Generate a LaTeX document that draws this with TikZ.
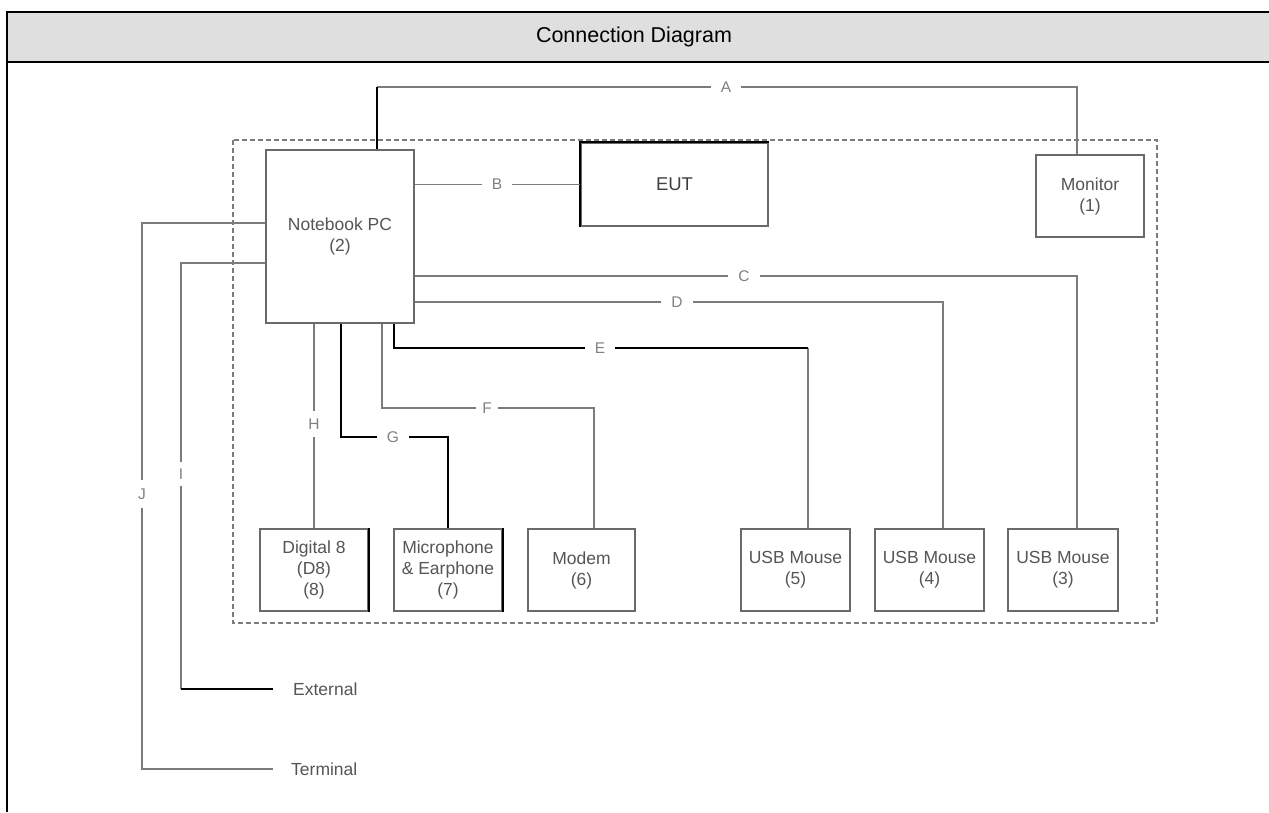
\documentclass[tikz,border=0pt]{standalone}
\usepackage{fontspec}
\setmainfont{Liberation Sans}
\usetikzlibrary{calc}
\definecolor{hdr}{HTML}{DFDFDF}
\definecolor{lgray}{HTML}{7C7C7C}
\definecolor{bgray}{HTML}{6A6A6A}
\definecolor{tgray}{HTML}{555555}
\definecolor{lbgray}{HTML}{808080}
\tikzset{
  devbox/.style={draw=bgray, line width=1.6pt, fill=white, inner sep=0pt, align=center,
    text=tgray, font=\fontsize{17.5}{21}\selectfont},
  wg/.style={draw=lgray, line width=1.6pt},
  wk/.style={draw=black, line width=2pt},
  hlbl/.style={fill=white, inner xsep=10pt, inner ysep=2pt, text=lbgray, font=\fontsize{15.5}{17}\selectfont},
  vlbl/.style={fill=white, inner xsep=2pt, inner ysep=8pt, text=lbgray, font=\fontsize{15.5}{17}\selectfont},
  extlbl/.style={anchor=west, inner sep=0pt, text=tgray, font=\fontsize{17.5}{20}\selectfont},
  encl/.style={draw=lgray, line width=1.6pt, dash pattern=on 5pt off 3pt},
}
\begin{document}
\begin{tikzpicture}[x=1pt, y=-1pt]
\useasboundingbox (0,0) rectangle (1269,812);
\fill[white] (0,0) rectangle (1269,812);
% header
\fill[hdr] (7,12) rectangle (1269,62);
\draw[line width=2pt] (1269,12) -- (7,12) -- (7,812);
\draw[line width=2pt] (7,62) -- (1269,62);
\node[font=\fontsize{21.5}{24}\selectfont] (title) at (634,37) {Connection Diagram};
% enclosure
\draw[encl] (233,140) rectangle (1157,623);
% devices
\node[devbox, minimum width=148pt, minimum height=173pt] (nb) at (340,236.5) {Notebook PC\\(2)};
\node[devbox, minimum width=187pt, minimum height=83pt, text=black!75, font=\fontsize{18.5}{21}\selectfont] (eut) at (674.5,184.5) {EUT};
\node[devbox, minimum width=108pt, minimum height=82pt] (mon) at (1090,196) {Monitor\\(1)};
\node[devbox, minimum width=108pt, minimum height=82pt] (d8) at (314,570) {Digital 8\\(D8)\\(8)};
\node[devbox, minimum width=108pt, minimum height=82pt] (mic) at (448,570) {Microphone\\\& Earphone\\(7)};
\node[devbox, minimum width=107pt, minimum height=82pt] (mod) at (581.5,570) {Modem\\(6)};
\node[devbox, minimum width=109pt, minimum height=82pt] (u5) at (795.5,570) {USB Mouse\\(5)};
\node[devbox, minimum width=109pt, minimum height=82pt] (u4) at (929.5,570) {USB Mouse\\(4)};
\node[devbox, minimum width=110pt, minimum height=82pt] (u3) at (1063,570) {USB Mouse\\(3)};
% darker edges
\draw[wk] (eut.south west) -- (eut.north west) -- (eut.north east);
\draw[wk, line width=1.8pt] (d8.north east) -- (d8.south east);
\draw[wk, line width=1.8pt] (mic.north east) -- (mic.south east);
% bend coordinates
\coordinate (aL) at (377,87);
\coordinate (aR) at (1077,87);
\coordinate (cR) at (1077,276);
\coordinate (dR) at (943,302);
\coordinate (eL) at (394,348);
\coordinate (eR) at (808,348);
\coordinate (fL) at (382,408);
\coordinate (fR) at (594,408);
\coordinate (gL) at (341,437);
\coordinate (gR) at (448,437);
\coordinate (iT) at (181,263);
\coordinate (iB) at (181,689);
\coordinate (iE) at (273,689);
\coordinate (jT) at (142,223);
\coordinate (jB) at (142,769);
\coordinate (jE) at (273,769);
% A
\draw[wg] (aL) -- (aR) -- (aR |- mon.north);
\draw[wk] (aL |- nb.north) -- (aL);
\node[hlbl] (la) at (726,87) {A};
% B
\draw[wg] (nb.east |- eut.west) -- (eut.west);
\node[hlbl] (lb) at (497,184.5) {B};
% C
\draw[wg] (nb.east |- cR) -- (cR) -- (cR |- u3.north);
\node[hlbl] (lc) at (744,276) {C};
% D
\draw[wg] (nb.east |- dR) -- (dR) -- (dR |- u4.north);
\node[hlbl] (ld) at (677,302) {D};
% E
\draw[wg] (eR) -- (eR |- u5.north);
\draw[wk] (eL |- nb.south) -- (eL) -- (eR);
\node[hlbl] (le) at (600,348) {E};
% F
\draw[wg] (fL |- nb.south) -- (fL) -- (fR) -- (fR |- mod.north);
\node[hlbl, inner xsep=6pt] (lf) at (487,408) {F};
% G
\draw[wk] (gL |- nb.south) -- (gL) -- (gR) -- (mic.north);
\node[hlbl] (lg) at (393,437) {G};
% H
\draw[wg] (d8.north |- nb.south) -- (d8.north);
\node[vlbl] (lh) at (314,424) {H};
% I
\draw[wg] (nb.west |- iT) -- (iT) -- (iB);
\draw[wk] (iB) -- (iE);
\node[vlbl, inner ysep=7pt] (li) at (181,474) {I};
\node[extlbl] (ext) at (293,689) {External};
% J
\draw[wg] (nb.west |- jT) -- (jT) -- (jB) -- (jE);
\node[vlbl, inner ysep=9pt] (lj) at (142,494) {J};
\node[extlbl] (term) at (291,769) {Terminal};
\end{tikzpicture}
\end{document}
